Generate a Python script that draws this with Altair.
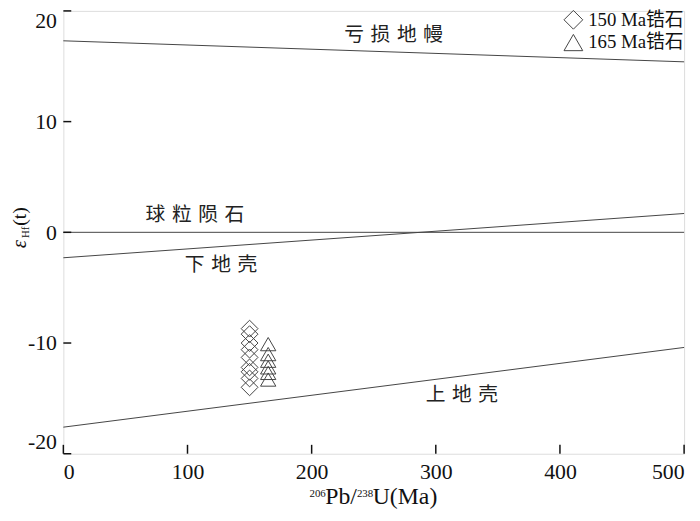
import altair as alt
import pandas as pd

# ---- data ----
x150 = [150, 150, 150, 150, 150, 150, 150, 150, 150]
y150 = [-8.7, -9.2, -10.0, -10.6, -11.3, -12.2, -12.6, -13.2, -14.0]
x165 = [165, 165, 165, 165, 165, 165]
y165 = [-10.1, -11.0, -11.6, -12.2, -12.7, -13.3]

line_names = ["亏损地幔", "球粒陨石", "下地壳", "上地壳"]
line_x0 = [0, 0, 0, 0]
line_x1 = [500, 500, 500, 500]
line_y0 = [17.3, 0.0, -2.3, -17.6]
line_y1 = [15.4, 0.0, 1.7, -10.4]

SP = "\u2004"
label_text = [SP.join("亏损地幔"), SP.join("球粒陨石"), SP.join("下地壳"), SP.join("上地壳")]
label_x = [266, 106, 127, 321]
label_y = [17.8, 1.6, -3.0, -14.7]

x_ticks = [0, 100, 200, 300, 400, 500]
y_ticks = [-20, -10, 0, 10, 20]

series = ["150 Ma锆石", "165 Ma锆石"]

# ---- frames ----
d150 = pd.DataFrame({"x": x150, "y": y150, "s": series[0]})
d165 = pd.DataFrame({"x": x165, "y": y165, "s": series[1]})
rows = []
for n, a, b, c, d in zip(line_names, line_x0, line_x1, line_y0, line_y1):
    rows.append({"name": n, "x": a, "y": c})
    rows.append({"name": n, "x": b, "y": d})
lines_df = pd.DataFrame(rows)
labels_df = pd.DataFrame({"x": label_x, "y": label_y, "t": label_text})
xt_df = pd.DataFrame({"x": x_ticks})
yt_df = pd.DataFrame({"y": y_ticks})

W, H = 628, 448
SERIF = "Liberation Serif, Noto Sans CJK SC"
CJK = "Noto Sans CJK SC"
INK = "#111"

xscale = alt.Scale(domain=[0, 500], nice=False, zero=False)
yscale = alt.Scale(domain=[-20, 20], nice=False, zero=False)
xaxis = alt.Axis(values=x_ticks, ticks=False, domain=False, grid=False,
                 labelFont=SERIF, labelFontSize=22, labelColor=INK,
                 labelPadding=8, title=None)
yaxis = alt.Axis(values=y_ticks, ticks=False, domain=False, grid=False,
                 labelFont=SERIF, labelFontSize=22, labelColor=INK,
                 labelPadding=7, labelFlush=True, title=None,
                 labelExpr="datum.value < 0 ? '-' + abs(datum.value) : '' + datum.value")

X = alt.X("x:Q", scale=xscale, axis=xaxis)
Y = alt.Y("y:Q", scale=yscale, axis=yaxis)

lines = alt.Chart(lines_df).mark_line(color="#444", strokeWidth=1).encode(
    x=X, y=Y, detail="name:N")

labels = alt.Chart(labels_df).mark_text(font=CJK, fontSize=20, color="#222",
                                        align="center", baseline="middle").encode(
    x=X, y=Y, text="t:N")

shape_enc = alt.Shape(
    "s:N", scale=alt.Scale(domain=series, range=["diamond", "triangle-up"]),
    legend=alt.Legend(title=None, orient="none", legendX=506, legendY=-1, padding=0,
                      labelFont=SERIF, labelFontSize=19, labelColor=INK,
                      symbolSize=360, symbolStrokeColor="#444", symbolStrokeWidth=1,
                      symbolFillColor="transparent", rowPadding=0, labelOffset=5,
                      labelLimit=0))

p150 = alt.Chart(d150).mark_point(filled=False, strokeWidth=1, color="#444", opacity=1,
                                  size=289).encode(x=X, y=Y, shape=shape_enc)
p165 = alt.Chart(d165).mark_point(filled=False, strokeWidth=1, color="#444", opacity=1,
                                  size=240).encode(x=X, y=Y, shape=shape_enc)

xticks = alt.Chart(xt_df).mark_rule(color=INK, strokeWidth=1.5).encode(
    x=X, y=alt.value(H), y2=alt.value(H - 9))
yticks = alt.Chart(yt_df).mark_rule(color=INK, strokeWidth=1.5).encode(
    y=Y, x=alt.value(0), x2=alt.value(8))

one = pd.DataFrame({"a": [0]})


def txt(s, x, y, size, angle=0, style="normal", align="center", baseline="middle"):
    return alt.Chart(one).mark_text(text=s, font=SERIF, fontSize=size, fontStyle=style,
                                    angle=angle, align=align, baseline=baseline,
                                    color=INK).encode(x=alt.value(x), y=alt.value(y))


# y title: epsilon_Hf(t), rotated
t_eps = txt("ε", -44, 236, 21, angle=270, style="italic")
t_hf = txt("Hf", -38, 224, 11, angle=270)
t_t = txt("(t)", -44, 208, 20, angle=270)

# x title: 206Pb/238U(Ma)
TB = 499
x_206 = txt("206", 249, TB - 7, 11, align="left", baseline="alphabetic")
x_pb = txt("Pb/", 265, TB, 24, align="left", baseline="alphabetic")
x_238 = txt("238", 297, TB - 7, 11, align="left", baseline="alphabetic")
x_u = txt("U(Ma)", 313, TB, 24, align="left", baseline="alphabetic")

chart = alt.layer(lines, labels, xticks, yticks, p150, p165,
                  t_eps, t_hf, t_t, x_206, x_pb, x_238, x_u).properties(
    width=W, height=H,
    autosize=alt.AutoSizeParams(type="none"),
    padding={"left": 56, "top": 0, "right": 8, "bottom": 55},
).configure_view(stroke=INK, strokeWidth=1.5).configure(background="white")

chart.save("out.html", embed_options={"renderer": "svg", "actions": False})
